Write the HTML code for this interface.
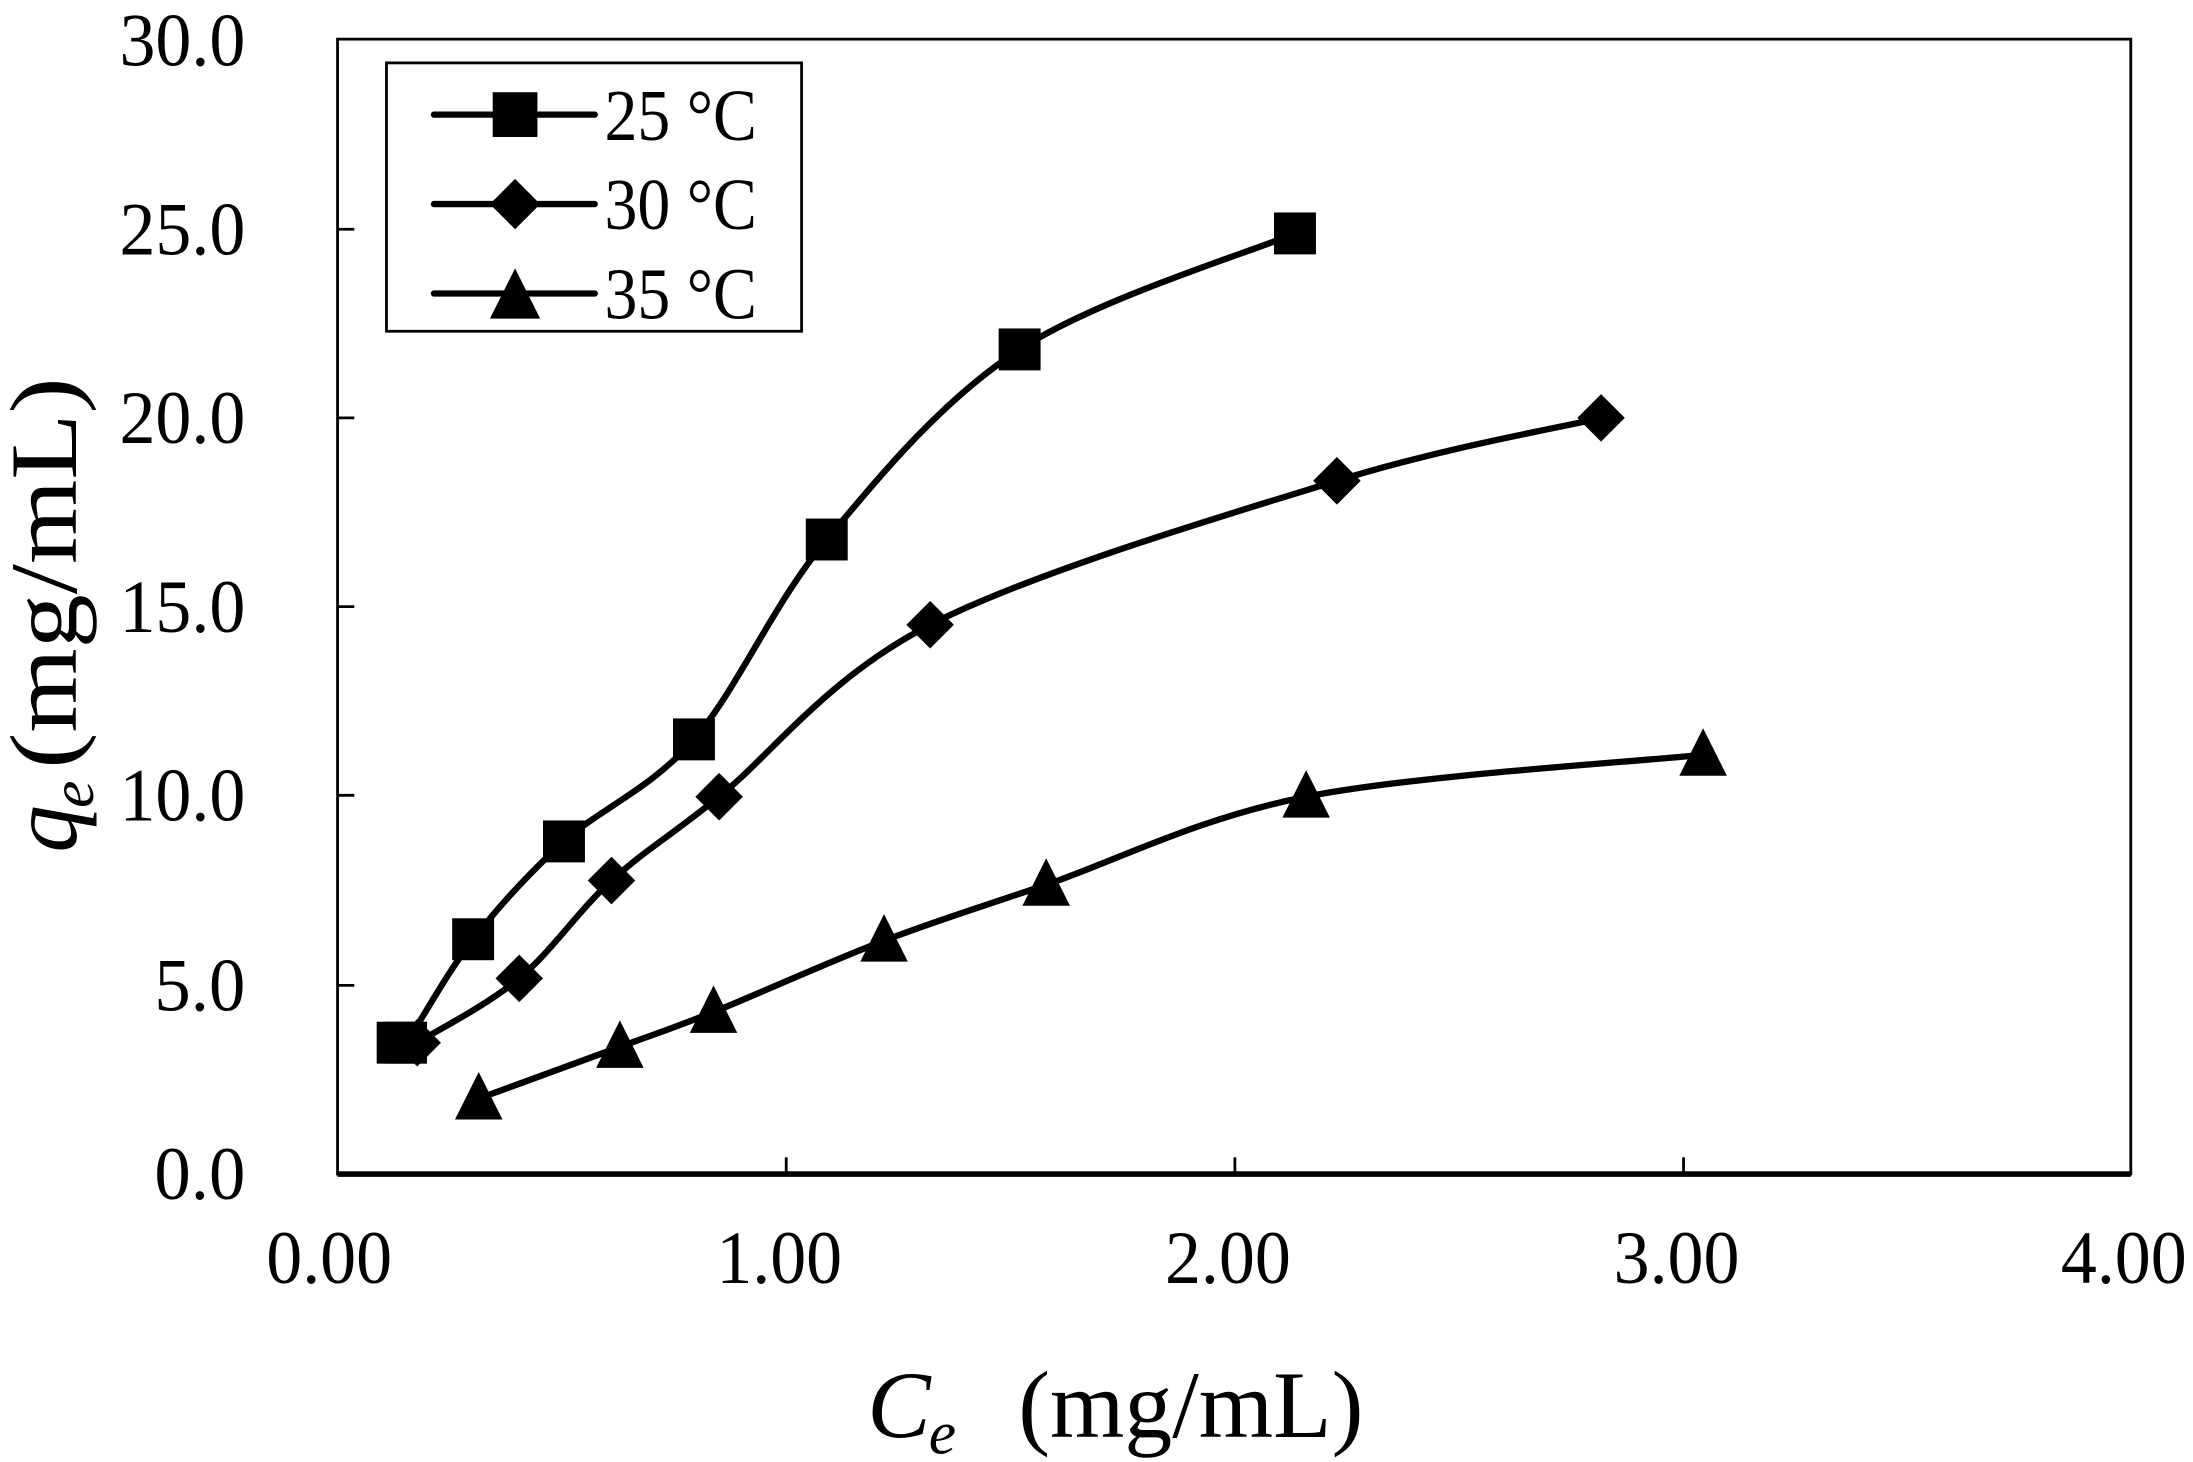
<!DOCTYPE html>
<html><head><meta charset="utf-8"><style>
html,body{margin:0;padding:0;background:#fff;}
svg{display:block;}
text{font-family:"Liberation Serif",serif;fill:#000;}
</style></head><body>
<svg id="s" width="2193" height="1462" viewBox="0 0 1568 1046" xmlns="http://www.w3.org/2000/svg">
<rect x="0" y="0" width="1568" height="1046" fill="#fff"/>
<rect x="241" y="28" width="1283" height="812" fill="none" stroke="#000" stroke-width="2"/>
<line x1="241" y1="840" x2="1524" y2="840" stroke="#000" stroke-width="4"/>
<g stroke="#000" stroke-width="2">
<line x1="241" y1="164" x2="253" y2="164"/><line x1="241" y1="299" x2="253" y2="299"/>
<line x1="241" y1="434" x2="253" y2="434"/><line x1="241" y1="569" x2="253" y2="569"/>
<line x1="241" y1="705" x2="253" y2="705"/>
<line x1="562" y1="840" x2="562" y2="828"/><line x1="883" y1="840" x2="883" y2="828"/>
<line x1="1204" y1="840" x2="1204" y2="828"/>
</g>
<g font-size="54">
<text x="85" y="47" textLength="90" lengthAdjust="spacingAndGlyphs">30.0</text>
<text x="85" y="182" textLength="90" lengthAdjust="spacingAndGlyphs">25.0</text>
<text x="85" y="317" textLength="90" lengthAdjust="spacingAndGlyphs">20.0</text>
<text x="85" y="452" textLength="90" lengthAdjust="spacingAndGlyphs">15.0</text>
<text x="85" y="587" textLength="90" lengthAdjust="spacingAndGlyphs">10.0</text>
<text x="110" y="723" textLength="65" lengthAdjust="spacingAndGlyphs">5.0</text>
<text x="110" y="858" textLength="65" lengthAdjust="spacingAndGlyphs">0.0</text>
</g>
<g font-size="54">
<text x="190" y="918" textLength="90" lengthAdjust="spacingAndGlyphs">0.00</text>
<text x="512" y="918" textLength="90" lengthAdjust="spacingAndGlyphs">1.00</text>
<text x="833" y="918" textLength="90" lengthAdjust="spacingAndGlyphs">2.00</text>
<text x="1154" y="918" textLength="90" lengthAdjust="spacingAndGlyphs">3.00</text>
<text x="1474" y="918" textLength="90" lengthAdjust="spacingAndGlyphs">4.00</text>
</g>
<text x="620" y="1028" font-size="68" font-style="italic">C</text>
<text x="664" y="1040" font-size="44" font-style="italic">e</text>
<text x="728" y="1028" font-size="68" textLength="247" lengthAdjust="spacingAndGlyphs">(mg/mL)</text>
<g transform="translate(54,0) rotate(-90)">
<text x="-610" y="0" font-size="68" font-style="italic">q</text>
<text x="-578" y="12" font-size="44" font-style="italic">e</text>
<text x="-550" y="0" font-size="68" textLength="280" lengthAdjust="spacingAndGlyphs">(mg/mL)</text>
</g>
<rect x="276" y="45" width="297" height="192" fill="#fff" stroke="#000" stroke-width="2"/>
<g stroke="#000" stroke-width="4.5" stroke-linecap="round">
<line x1="310" y1="82" x2="425" y2="82"/><line x1="310" y1="146" x2="425" y2="146"/><line x1="310" y1="210" x2="425" y2="210"/>
</g>
<rect x="352" y="66" width="32" height="32"/>
<polygon points="368,128 386,146 368,164 350,146"/>
<polygon points="368,192 386,228 350,228"/>
<g font-size="52">
<text x="432" y="100" textLength="109" lengthAdjust="spacingAndGlyphs">25 °C</text>
<text x="432" y="164" textLength="109" lengthAdjust="spacingAndGlyphs">30 °C</text>
<text x="432" y="228" textLength="109" lengthAdjust="spacingAndGlyphs">35 °C</text>
</g>
<g id="curves" fill="none" stroke="#000" stroke-width="4.5"></g>
<g id="marks"></g>
</svg>
<script>
var S=[
 {t:'sq',p:[[284,746],[290,746],[338,672],[403,602],[496,529],[591,386],[729,250],[926,167]]},
 {t:'di',p:[[298,746],[371,700],[437,630],[514,570],[665,447],[956,344],[1145,299]]},
 {t:'tr',p:[[342,786],[443,749],[510,724],[632,673],[748,633],[934,570],[1218,540]]}
];
var ns='http://www.w3.org/2000/svg',cg=document.getElementById('curves'),mg=document.getElementById('marks');
S.forEach(function(s){
 var p=s.p,d='M'+p[0][0]+','+p[0][1];
 for(var i=0;i<p.length-1;i++){
  var p0=p[i-1]||p[i],p1=p[i],p2=p[i+1],p3=p[i+2]||p2;
  d+=' C'+(p1[0]+(p2[0]-p0[0])/6)+','+(p1[1]+(p2[1]-p0[1])/6)+' '+(p2[0]-(p3[0]-p1[0])/6)+','+(p2[1]-(p3[1]-p1[1])/6)+' '+p2[0]+','+p2[1];
 }
 var e=document.createElementNS(ns,'path');e.setAttribute('d',d);cg.appendChild(e);
 p.forEach(function(q){
  var m,x=q[0],y=q[1];
  if(s.t=='sq'){m=document.createElementNS(ns,'rect');m.setAttribute('x',x-15);m.setAttribute('y',y-15);m.setAttribute('width',30);m.setAttribute('height',30);}
  else if(s.t=='di'){m=document.createElementNS(ns,'polygon');m.setAttribute('points',x+','+(y-17)+' '+(x+17)+','+y+' '+x+','+(y+17)+' '+(x-17)+','+y);}
  else{m=document.createElementNS(ns,'polygon');m.setAttribute('points',x+','+(y-19)+' '+(x+17)+','+(y+15)+' '+(x-17)+','+(y+15));}
  mg.appendChild(m);
 });
});
</script>
</body></html>
